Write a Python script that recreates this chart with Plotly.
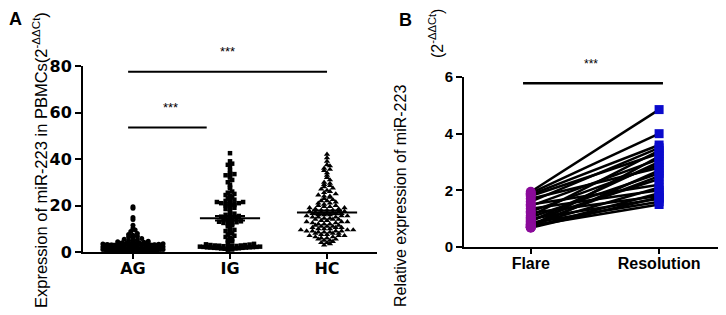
import numpy as np
import plotly.graph_objects as go

# ---------------- data ----------------
groups_A = ["AG", "IG", "HC"]
AG = [19.5, 18.8, 14.8, 14.0, 11.5, 10.2, 9.5, 8.8, 8.0, 7.5, 7.2, 6.8, 6.5, 6.2, 5.8,
      5.5, 5.2, 5.0, 4.8, 4.6, 4.4, 4.2, 4.0, 3.9, 3.8, 3.7, 3.6, 3.5, 3.4, 3.3, 3.2,
      3.1, 3.0, 3.0, 2.9, 2.8, 2.8, 2.7, 2.6, 2.5, 2.5, 2.4, 2.3, 2.2, 2.2, 2.1, 2.0,
      2.0, 1.9, 1.9, 1.8, 1.8, 1.7, 1.7, 1.6, 1.6, 1.5, 1.5, 1.4, 1.4, 1.3, 1.3, 1.2,
      1.2, 1.1, 1.1, 1.0, 1.0, 0.9, 0.9, 0.8, 0.8, 0.8, 0.7, 0.7, 0.6, 0.6, 0.5, 0.5,
      0.5, 0.4, 0.4, 0.3, 0.3, 1.0, 1.2, 0.9, 0.6, 1.4, 1.1]
IG = [42.5, 39.0, 38.0, 37.5, 36.5, 35.0, 34.0, 33.5, 33.0, 32.5, 32.0, 31.0, 30.0,
      29.0, 28.0, 27.5, 26.0, 25.5, 25.0, 24.5, 24.0, 23.5, 23.0, 22.5, 22.0, 22.0,
      21.5, 21.5, 21.0, 21.0, 20.8, 20.5, 20.5, 20.2, 20.0, 19.5, 19.0, 18.5, 18.0,
      17.0, 16.5, 16.0, 15.8, 15.5, 15.2, 15.0, 14.8, 14.5, 14.2, 14.0, 13.8, 13.5,
      13.2, 13.0, 12.8, 12.5, 12.2, 12.0, 11.5, 11.0, 10.0, 9.5, 9.0, 8.5, 8.0, 7.5,
      7.0, 6.5, 6.0, 5.5, 5.0, 4.5, 4.0, 3.5, 3.2, 3.0, 3.0, 2.8, 2.8, 2.6, 2.5, 2.5,
      2.4, 2.3, 2.2, 2.2, 2.1, 2.0, 2.0, 1.9, 1.8, 1.8, 1.7, 1.6, 1.5, 1.5, 1.4, 1.3,
      1.2, 1.1, 1.0, 2.7, 2.3, 1.9, 3.3]
HC = [42.0, 40.5, 39.0, 37.5, 37.0, 36.0, 35.5, 35.0, 34.0, 33.0, 32.0, 31.0, 30.0,
      29.5, 29.0, 28.5, 28.0, 27.5, 27.0, 26.5, 26.0, 25.5, 25.0, 24.5, 24.0, 24.0,
      23.5, 23.0, 22.5, 22.0, 22.0, 21.5, 21.0, 21.0, 20.5, 20.0, 20.0, 19.5, 19.5,
      19.0, 19.0, 18.5, 18.5, 18.0, 18.0, 18.0, 17.5, 17.5, 17.5, 17.0, 17.0, 17.0,
      17.0, 16.5, 16.5, 16.5, 16.0, 16.0, 16.0, 15.5, 15.5, 15.5, 15.0, 15.0, 15.0,
      14.5, 14.5, 14.0, 14.0, 14.0, 13.5, 13.5, 13.0, 13.0, 13.0, 12.5, 12.5, 12.0,
      12.0, 12.0, 11.5, 11.5, 11.0, 11.0, 11.0, 10.5, 10.5, 10.5, 10.0, 10.0, 10.0,
      9.5, 9.5, 9.5, 9.0, 9.0, 9.0, 9.0, 8.5, 8.5, 8.5, 8.0, 8.0, 8.0, 7.5, 7.5, 7.0,
      7.0, 7.0, 6.5, 6.5, 6.0, 6.0, 5.5, 5.5, 5.0, 5.0, 4.5, 4.0, 4.0, 3.5, 3.0]
means_A = [3.5, 14.5, 17.0]
sem_A = [0.5, 1.0, 0.8]
yticks_A = [0, 20, 40, 60, 80]
sig_A_y = [53.5, 77.5]

groups_B = ["Flare", "Resolution"]
flare = [1.95, 1.9, 1.85, 1.8, 1.7, 1.6, 1.5, 1.45, 1.35, 1.25, 1.2, 1.1, 1.05, 1.0,
         0.95, 0.9, 0.85, 0.8, 0.78, 0.75, 0.72, 0.7, 0.7, 0.68]
resolution = [4.85, 4.0, 3.6, 3.3, 2.8, 3.5, 2.2, 3.1, 2.0, 2.9, 1.8, 3.4, 2.6, 1.7,
              2.4, 3.0, 1.6, 2.5, 2.1, 1.5, 3.2, 1.9, 2.7, 1.75]
yticks_B = [0, 2, 4, 6]
sig_B_y = 5.78

# ---------------- helpers ----------------
def swarm(vals, center, binh, step, maxhalf):
    vals = np.asarray(vals, dtype=float)
    xs = np.zeros(len(vals))
    bins = {}
    for idx in np.argsort(vals, kind="stable"):
        bins.setdefault(int(vals[idx] // binh), []).append(idx)
    for idxs in bins.values():
        n = len(idxs)
        st = step
        if n > 1 and (n - 1) / 2 * st > maxhalf:
            st = maxhalf / ((n - 1) / 2)
        offs = sorted([k - (n - 1) / 2 for k in range(n)], key=lambda o: (abs(o), o))
        for idx, o in zip(idxs, offs):
            xs[idx] = center + o * st
    return xs

fig = go.Figure()
W, H = 726, 315
OFF = 8  # page offset of the plot div
BOLD_A = "DejaVu Sans"
ARIAL = "Liberation Sans, Arial"

symbols = ["circle", "square", "triangle-up"]
sizes = [5, 4.5, 5.5]
steps = [0.045, 0.045, 0.06]
for i, (vals, sym, sz, st) in enumerate(zip([AG, IG, HC], symbols, sizes, steps)):
    fig.add_trace(go.Scatter(
        x=swarm(vals, i, 1.2, st, 0.31), y=vals, mode="markers",
        marker=dict(symbol=sym, size=sz, color="black", line=dict(width=0)),
        xaxis="x", yaxis="y", cliponaxis=False, showlegend=False))

# mean lines
mx, my = [], []
for i, m in enumerate(means_A):
    mx += [i - 0.31, i + 0.31, None]
    my += [m, m, None]
fig.add_trace(go.Scatter(x=mx, y=my, mode="lines", line=dict(color="black", width=2),
                         xaxis="x", yaxis="y", showlegend=False))
fig.add_trace(go.Scatter(x=list(range(3)), y=means_A, mode="markers",
                         marker=dict(size=1, color="black"),
                         error_y=dict(type="data", array=sem_A, color="black", thickness=2, width=15),
                         xaxis="x", yaxis="y", showlegend=False))

# panel B lines
lx, ly = [], []
for f, r in zip(flare, resolution):
    lx += [0, 1, None]
    ly += [f, r, None]
fig.add_trace(go.Scatter(x=lx, y=ly, mode="lines", line=dict(color="black", width=2.5),
                         xaxis="x2", yaxis="y2", showlegend=False))
fig.add_trace(go.Scatter(x=[0] * len(flare), y=flare, mode="markers",
                         marker=dict(symbol="circle", size=10, color="#8A0A9A"),
                         xaxis="x2", yaxis="y2", cliponaxis=False, showlegend=False))
fig.add_trace(go.Scatter(x=[1] * len(resolution), y=resolution, mode="markers",
                         marker=dict(symbol="square", size=9, color="#0A0ACC"),
                         xaxis="x2", yaxis="y2", cliponaxis=False, showlegend=False))

# significance bars
shapes = [
    dict(type="line", xref="x", yref="y", x0=-0.05, x1=0.76, y0=sig_A_y[0], y1=sig_A_y[0],
         line=dict(color="black", width=2)),
    dict(type="line", xref="x", yref="y", x0=-0.05, x1=2.0, y0=sig_A_y[1], y1=sig_A_y[1],
         line=dict(color="black", width=2)),
    dict(type="line", xref="x2", yref="y2", x0=-0.06, x1=1.03, y0=sig_B_y, y1=sig_B_y,
         line=dict(color="black", width=2.5)),
]

def px(xp):
    return (xp - OFF) / W

def py(yp):
    return 1 - (yp - OFF) / H

def ann(text, x, y, size, angle=0, family=ARIAL):
    return dict(text=text, x=px(x), y=py(y), xref="paper", yref="paper", showarrow=False,
                xanchor="center", yanchor="middle", textangle=angle,
                font=dict(family=family, size=size, color="black"))

annotations = [
    ann("***", 170, 107, 13),
    ann("***", 227, 52, 13),
    ann("***", 591, 64, 12),
    ann("<b>A</b>", 15, 19, 18),
    ann("<b>B</b>", 405, 20, 18),
    ann("Expression of miR-223 in PBMCs(2<sup>-ΔΔCt</sup>)", 40, 160, 16.5, -90),
    ann("Relative expression of miR-223", 400, 196, 16, -90),
    ann("(2<sup>-ΔΔCt</sup>)", 436, 34, 16, -90),
]

axis_common = dict(showline=True, linecolor="black", linewidth=2, ticks="outside",
                   tickcolor="black", tickwidth=1.5, showgrid=False, zeroline=False,
                   automargin=False)

fig.update_layout(
    width=W, height=H, autosize=False,
    margin=dict(l=0, r=0, t=0, b=0, pad=0, autoexpand=False),
    paper_bgcolor="white", plot_bgcolor="white",
    showlegend=False,
    xaxis=dict(domain=[px(83), px(377)], range=[-0.515, 2.515], tickvals=[0, 1, 2],
               ticktext=[f"<b>{g}</b>" for g in groups_A], ticklen=5, ticklabelstandoff=-4,
               tickfont=dict(family=BOLD_A, size=16, color="black"), anchor="y", **axis_common),
    yaxis=dict(domain=[py(252), py(66)], range=[0, 80], tickvals=yticks_A, ticklen=6,
               ticktext=[f"<b>{t}</b>" for t in yticks_A],
               tickfont=dict(family=BOLD_A, size=16, color="black"), anchor="x", **axis_common),
    xaxis2=dict(domain=[px(464), px(722)], range=[-0.52, 1.49], tickvals=[0, 1],
                ticktext=[f"<b>{g}</b>" for g in groups_B], ticklen=5, ticklabelstandoff=-4,
                tickfont=dict(family=ARIAL, size=16, color="black"), anchor="y2", **axis_common),
    yaxis2=dict(domain=[py(247), py(77)], range=[0, 6], tickvals=yticks_B, ticklen=6,
                ticktext=[f"<b>{t}</b>" for t in yticks_B],
                tickfont=dict(family=ARIAL, size=15, color="black"), anchor="x2", **axis_common),
    shapes=shapes,
    annotations=annotations,
)

fig.write_html("out.html")
